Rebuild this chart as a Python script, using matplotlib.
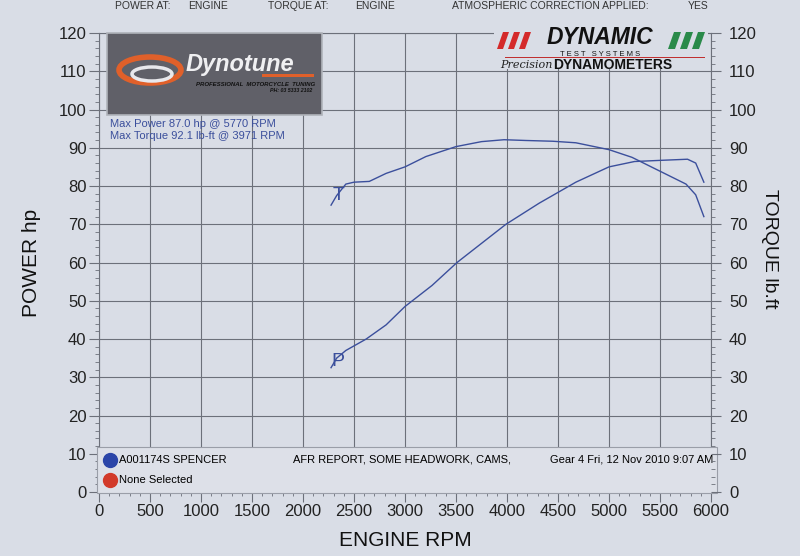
import matplotlib.pyplot as plt
import matplotlib.ticker as ticker
from matplotlib.patches import Rectangle, Ellipse, Polygon

# torque curve (lb-ft)
rpm_t = [2275, 2330, 2420, 2500, 2650, 2815, 3000, 3205, 3500, 3750, 3971, 4185, 4450, 4675, 5000, 5225, 5490, 5755, 5850, 5930]
torque = [75.0, 77.5, 80.5, 81.0, 81.2, 83.3, 85.0, 87.7, 90.3, 91.6, 92.1, 91.9, 91.7, 91.3, 89.5, 87.5, 84.0, 80.5, 77.7, 72.0]

# power curve (hp)
rpm_p = [2275, 2330, 2420, 2620, 2815, 3000, 3265, 3510, 3750, 3990, 4315, 4675, 5000, 5250, 5500, 5770, 5850, 5930]
power = [32.5, 35.0, 37.0, 40.0, 43.7, 48.5, 54.0, 60.0, 65.0, 70.0, 75.5, 81.0, 85.0, 86.4, 86.7, 87.0, 86.0, 81.0]

x_ticks = list(range(0, 6001, 500))
y_ticks = list(range(0, 121, 10))

paper = "#d9dde6"
ink = "#3b4f9c"
grid_c = "#6c707a"
plt.rcParams['font.family'] = ['Liberation Sans', 'DejaVu Sans']

W, H = 800, 556
fig = plt.figure(figsize=(8, 5.56), dpi=100, facecolor=paper)

def fx(x):
    return x / W

def fy(y):
    return 1 - y / H

ax = fig.add_axes([fx(99), fy(492), fx(612), 459 / H])
ax.set_facecolor(paper)
ax.set_xlim(0, 6000)
ax.set_ylim(0, 120)
ax.set_xticks(x_ticks)
ax.set_yticks(y_ticks)
ax.xaxis.set_minor_locator(ticker.MultipleLocator(100))
ax.yaxis.set_minor_locator(ticker.MultipleLocator(2))
ax.grid(True, which='major', color=grid_c, lw=0.8)
ax.tick_params(which='major', direction='out', length=7, width=0.8, color=grid_c,
               labelsize=12, labelcolor='#222222', pad=2)
ax.tick_params(which='minor', direction='out', length=3, width=0.6, color=grid_c)
for s in ax.spines.values():
    s.set_color(grid_c)
    s.set_linewidth(0.8)

ax2 = ax.twinx()
ax2.set_ylim(0, 120)
ax2.set_yticks(y_ticks)
ax2.yaxis.set_minor_locator(ticker.MultipleLocator(2))
ax2.tick_params(which='major', direction='out', length=7, width=0.8, color=grid_c,
                labelsize=12, labelcolor='#222222', pad=6)
ax2.tick_params(which='minor', direction='out', length=3, width=0.6, color=grid_c)
for s in ax2.spines.values():
    s.set_visible(False)

ax.plot(rpm_p, power, color=ink, lw=1.0, zorder=4)
ax2.plot(rpm_t, torque, color=ink, lw=1.0, zorder=4)
ax.text(rpm_p[0] + 70, power[0] + 1.5, "P", color=ink, fontsize=14, ha='center', va='center', zorder=5)
ax2.text(rpm_t[0] + 70, torque[0] + 2.5, "T", color=ink, fontsize=14, ha='center', va='center', zorder=5)

ax.set_xlabel("ENGINE RPM", fontsize=15, color='#111111', labelpad=8)
ax.set_ylabel("POWER hp", fontsize=15, color='#111111', va='center')
ax.yaxis.set_label_coords(-0.11, 0.5)
ax2.set_ylabel("TORQUE lb.ft", fontsize=14, color='#111111', rotation=-90, va='center')
ax2.yaxis.set_label_coords(1.095, 0.53)

# header line of the printout
hdr = [(115, "POWER AT:"), (188, "ENGINE"), (268, "TORQUE AT:"), (355, "ENGINE"),
       (452, "ATMOSPHERIC CORRECTION APPLIED:"), (688, "YES")]
for x, s in hdr:
    fig.text(fx(x), fy(1), s, fontsize=7.5, color='#333333', va='top')

# Dynotune logo
fig.patches.append(Rectangle((fx(107), fy(115)), fx(215), 82 / H, transform=fig.transFigure,
                             facecolor='#606068', edgecolor='#b0b3ba', lw=1.2, zorder=3))
fig.patches.append(Ellipse((fx(150), fy(70)), fx(62), 26 / H, transform=fig.transFigure,
                           facecolor='none', edgecolor='#e0602a', lw=4, zorder=4))
fig.patches.append(Ellipse((fx(152), fy(74)), fx(40), 14 / H, transform=fig.transFigure,
                           facecolor='none', edgecolor='#e8e8ec', lw=2.5, zorder=4))
fig.text(fx(186), fy(65), "Dynotune", fontsize=17, color='#f0f0f2', style='italic',
         weight='bold', va='center', zorder=5)
fig.patches.append(Rectangle((fx(262), fy(77)), fx(52), 3 / H, transform=fig.transFigure,
                             facecolor='#e0602a', edgecolor='none', zorder=5))
fig.text(fx(196), fy(84), "PROFESSIONAL  MOTORCYCLE  TUNING", fontsize=4.3, color='#111111',
         style='italic', weight='bold', va='center', zorder=5)
fig.text(fx(312), fy(91), "PH: 03 5333 2102", fontsize=3.8, color='#111111',
         style='italic', weight='bold', va='center', ha='right', zorder=5)
fig.text(fx(110), fy(124), "Max Power 87.0 hp @ 5770 RPM", fontsize=8, color=ink, va='center', zorder=5)
fig.text(fx(110), fy(136), "Max Torque 92.1 lb-ft @ 3971 RPM", fontsize=8, color=ink, va='center', zorder=5)

# Dynamic Test Systems logo
fig.patches.append(Rectangle((fx(494), fy(69)), fx(214), 40 / H, transform=fig.transFigure,
                             facecolor=paper, edgecolor='none', zorder=3))
for i in range(3):
    x0 = 497 + i * 11
    fig.patches.append(Polygon([(fx(x0), fy(49)), (fx(x0 + 6), fy(49)), (fx(x0 + 12), fy(32)),
                                (fx(x0 + 6), fy(32))], closed=True, transform=fig.transFigure,
                               facecolor='#d42a2a', edgecolor='none', zorder=4))
for i in range(3):
    x0 = 668 + i * 12
    fig.patches.append(Polygon([(fx(x0), fy(49)), (fx(x0 + 7), fy(49)), (fx(x0 + 13), fy(32)),
                                (fx(x0 + 6), fy(32))], closed=True, transform=fig.transFigure,
                               facecolor='#2a8a4a', edgecolor='none', zorder=4))
fig.text(fx(600), fy(44), "DYNAMIC", fontsize=16.5, color='#111111', style='italic',
         weight='heavy', va='baseline', ha='center', zorder=5)
fig.text(fx(600), fy(56.5), "T E S T   S Y S T E M S", fontsize=5.5, color='#111111',
         va='baseline', ha='center', zorder=5)
fig.patches.append(Rectangle((fx(505), fy(58)), fx(200), 1.2 / H, transform=fig.transFigure,
                             facecolor='#c03030', edgecolor='none', zorder=4))
fig.text(fx(500), fy(65), "Precision", fontsize=8, color='#222222', style='italic',
         family='DejaVu Serif', va='center', zorder=5)
fig.text(fx(553), fy(65), "DYNAMOMETERS", fontsize=10, color='#111111', weight='bold',
         va='center', zorder=5)

# run legend box along the bottom
ax.add_patch(Rectangle((-0.003, -0.002), 1.012, 0.1, transform=ax.transAxes, clip_on=False,
                       facecolor='#dde0e8', edgecolor='#9a9ea8', lw=0.8, zorder=6))
ax.plot([0.018], [0.07], 'o', color='#2b45a8', ms=10, transform=ax.transAxes, clip_on=False, zorder=7)
ax.plot([0.018], [0.027], 'o', color='#d23a2a', ms=10, transform=ax.transAxes, clip_on=False, zorder=7)
ax.text(0.032, 0.07, "A001174S SPENCER", fontsize=8, transform=ax.transAxes, va='center', zorder=7)
ax.text(0.032, 0.027, "None Selected", fontsize=8, transform=ax.transAxes, va='center', zorder=7)
ax.text(0.317, 0.07, "AFR REPORT, SOME HEADWORK, CAMS,", fontsize=8, transform=ax.transAxes,
        va='center', zorder=7)
ax.text(1.004, 0.07, "Gear 4 Fri, 12 Nov 2010 9:07 AM", fontsize=8, transform=ax.transAxes,
        va='center', ha='right', zorder=7)

fig.savefig("out.png", dpi=100, facecolor=paper)
